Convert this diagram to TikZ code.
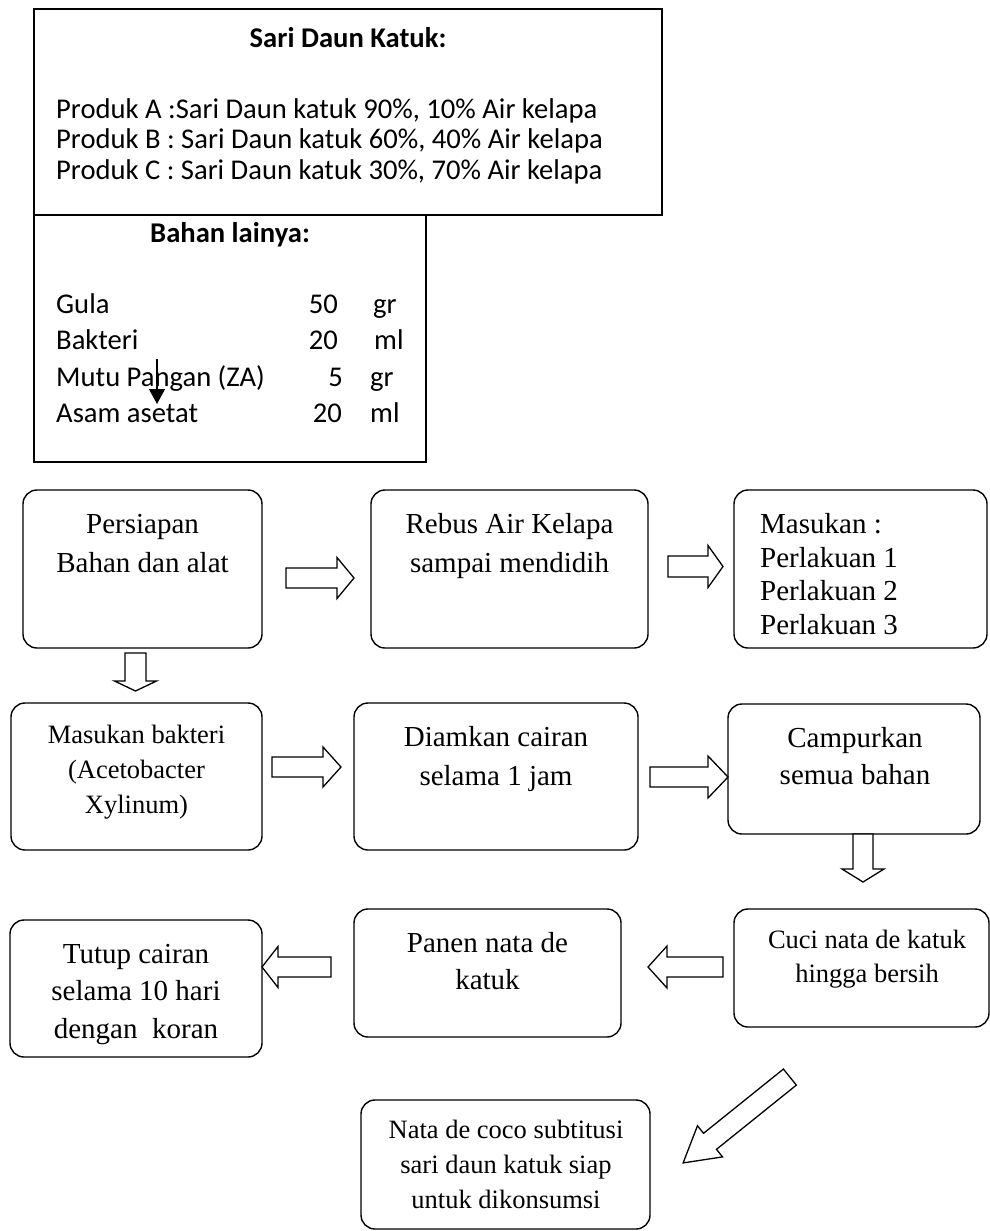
\documentclass[tikz,border=0pt]{standalone}
\usepackage{fontspec}
\setmainfont{Liberation Serif}
\newfontfamily\calfont{Carlito}
\usetikzlibrary{arrows.meta}
\tikzset{
  sq/.style={draw, line width=1.4pt, inner sep=0pt, outer sep=0pt},
  rbox/.style={draw, line width=1.4pt, rounded corners=14pt, inner sep=0pt, outer sep=0pt},
  barw/.style={draw, line width=1.3pt, fill=white, line join=miter},
  tr/.style={anchor=base, inner sep=0pt, font=\fontsize{29}{35}\selectfont},
  trs/.style={anchor=base, inner sep=0pt, font=\fontsize{26.5}{32}\selectfont},
  cal/.style={anchor=base west, inner sep=0pt, font=\calfont\fontsize{28.6}{34}\selectfont},
  calb/.style={anchor=base, inner sep=0pt, font=\calfont\bfseries\fontsize{28.6}{34}\selectfont},
  smallarrow/.style={line width=1.3pt, -{Triangle[length=15pt,width=16pt]}}
}
\newcommand\mkbox[6]{\node[#6, minimum width={(#4)-(#2)}, minimum height={(#5)-(#3)}] (#1) at ({((#2)+(#4))/2},{((#3)+(#5))/2}) {};}
\newcommand\barrow[7]{%
  \draw[barw, shift={(#1,#2)}, rotate=#3] ({-(#4)/2},{-(#5)}) -- ({(#4)/2-(#7)},{-(#5)}) -- ({(#4)/2-(#7)},{-(#6)}) -- ({(#4)/2},0) -- ({(#4)/2-(#7)},{#6}) -- ({(#4)/2-(#7)},{#5}) -- ({-(#4)/2},{#5}) -- cycle;}
\begin{document}
\begin{tikzpicture}[x=1pt,y=-1pt]
\useasboundingbox (0,0) rectangle (990,1231);
\fill[white] (0,0) rectangle (990,1231);

% top boxes
\mkbox{top}{34}{9}{662}{215}{sq}
\mkbox{bahan}{34}{215}{426}{462}{sq}
\node[calb] (ttl) at (348,48) {Sari Daun Katuk:};
\node[cal] (pa) at (56,118) {Produk A :Sari Daun katuk 90\%, 10\% Air kelapa};
\node[cal] (pb) at (56,148.5) {Produk B : Sari Daun katuk 60\%, 40\% Air kelapa};
\node[cal] (pc) at (56,179) {Produk C : Sari Daun katuk 30\%, 70\% Air kelapa};
\node[calb] (bl) at (230,242) {Bahan lainya:};
\node[cal] (g1) at (56,313) {Gula};
\node[cal] (g2) at (56,349) {Bakteri};
\node[cal] (g3) at (56,386) {Mutu Pangan (ZA)};
\node[cal] (g4) at (56,422) {Asam asetat};
\node[cal, anchor=base east] (n1) at (338,313) {50};
\node[cal, anchor=base east] (n2) at (338,349) {20};
\node[cal, anchor=base east] (n3) at (343,386) {5};
\node[cal, anchor=base east] (n4) at (342,422) {20};
\node[cal] (u1) at (373,313) {gr};
\node[cal] (u2) at (374,349) {ml};
\node[cal] (u3) at (370,386) {gr};
\node[cal] (u4) at (370,422) {ml};
\coordinate (sa1) at (157,359);
\coordinate (sa2) at (157,404);
\draw[smallarrow] (sa1) -- (sa2);

% flow boxes
\mkbox{b1}{23}{490}{262}{648}{rbox}
\mkbox{b2}{371}{490}{648}{648}{rbox}
\mkbox{b3}{734}{490}{987}{648}{rbox}
\mkbox{b4}{11}{703}{262}{850}{rbox}
\mkbox{b5}{354}{703}{638}{850}{rbox}
\mkbox{b6}{728}{704}{980}{834}{rbox}
\mkbox{b7}{10}{920}{262}{1057}{rbox}
\mkbox{b8}{354}{909}{621}{1037}{rbox}
\mkbox{b9}{734}{909}{989}{1027}{rbox}
\mkbox{b10}{361}{1100}{650}{1229}{rbox}

% texts
\node[tr] (t1a) at (142.5,533) {Persiapan};
\node[tr] (t1b) at (142.5,572) {Bahan dan alat};
\node[tr] (t2a) at (509.5,533) {Rebus Air Kelapa};
\node[tr] (t2b) at (509.5,572) {sampai mendidih};
\node[tr, anchor=base west] (t3a) at (760,533) {Masukan :};
\node[tr, anchor=base west] (t3b) at (760,567) {Perlakuan 1};
\node[tr, anchor=base west] (t3c) at (760,600.5) {Perlakuan 2};
\node[tr, anchor=base west] (t3d) at (760,634) {Perlakuan 3};
\node[trs] (t4a) at (136.5,743) {Masukan bakteri};
\node[trs] (t4b) at (136.5,778) {(Acetobacter};
\node[trs] (t4c) at (136.5,813) {Xylinum)};
\node[tr] (t5a) at (496,746) {Diamkan cairan};
\node[tr] (t5b) at (496,785) {selama 1 jam};
\node[tr] (t6a) at (855,747) {Campurkan};
\node[tr] (t6b) at (855,784) {semua bahan};
\node[tr] (t7a) at (136,963) {Tutup cairan};
\node[tr] (t7b) at (136,1000) {selama 10 hari};
\node[tr] (t7c) at (136,1038) {dengan\ \ koran};
\node[tr] (t8a) at (487.5,952) {Panen nata de};
\node[tr] (t8b) at (487.5,989) {katuk};
\node[trs] (t9a) at (867,948) {Cuci nata de katuk};
\node[trs] (t9b) at (867,982) {hingga bersih};
\node[trs] (t10a) at (506,1138) {Nata de coco subtitusi};
\node[trs] (t10b) at (506,1173) {sari daun katuk siap};
\node[trs] (t10c) at (506,1208) {untuk dikonsumsi};

% block arrows
\barrow{320}{578}{0}{68}{10}{20.5}{17}
\barrow{695.5}{566.5}{0}{55}{10.5}{21}{15}
\barrow{135.5}{672}{-90}{38}{10.5}{21}{10}
\barrow{306.5}{767}{0}{69}{10}{20}{18}
\barrow{689}{777}{0}{78}{10}{21}{20}
\barrow{863}{858}{-90}{48}{10}{21}{13}
\barrow{685.5}{967}{180}{75}{10}{21}{19}
\barrow{296.5}{967}{180}{69}{10}{20.5}{16}
\barrow{736.5}{1120}{218.8}{137}{10.3}{20}{34.5}
\end{tikzpicture}
\end{document}
